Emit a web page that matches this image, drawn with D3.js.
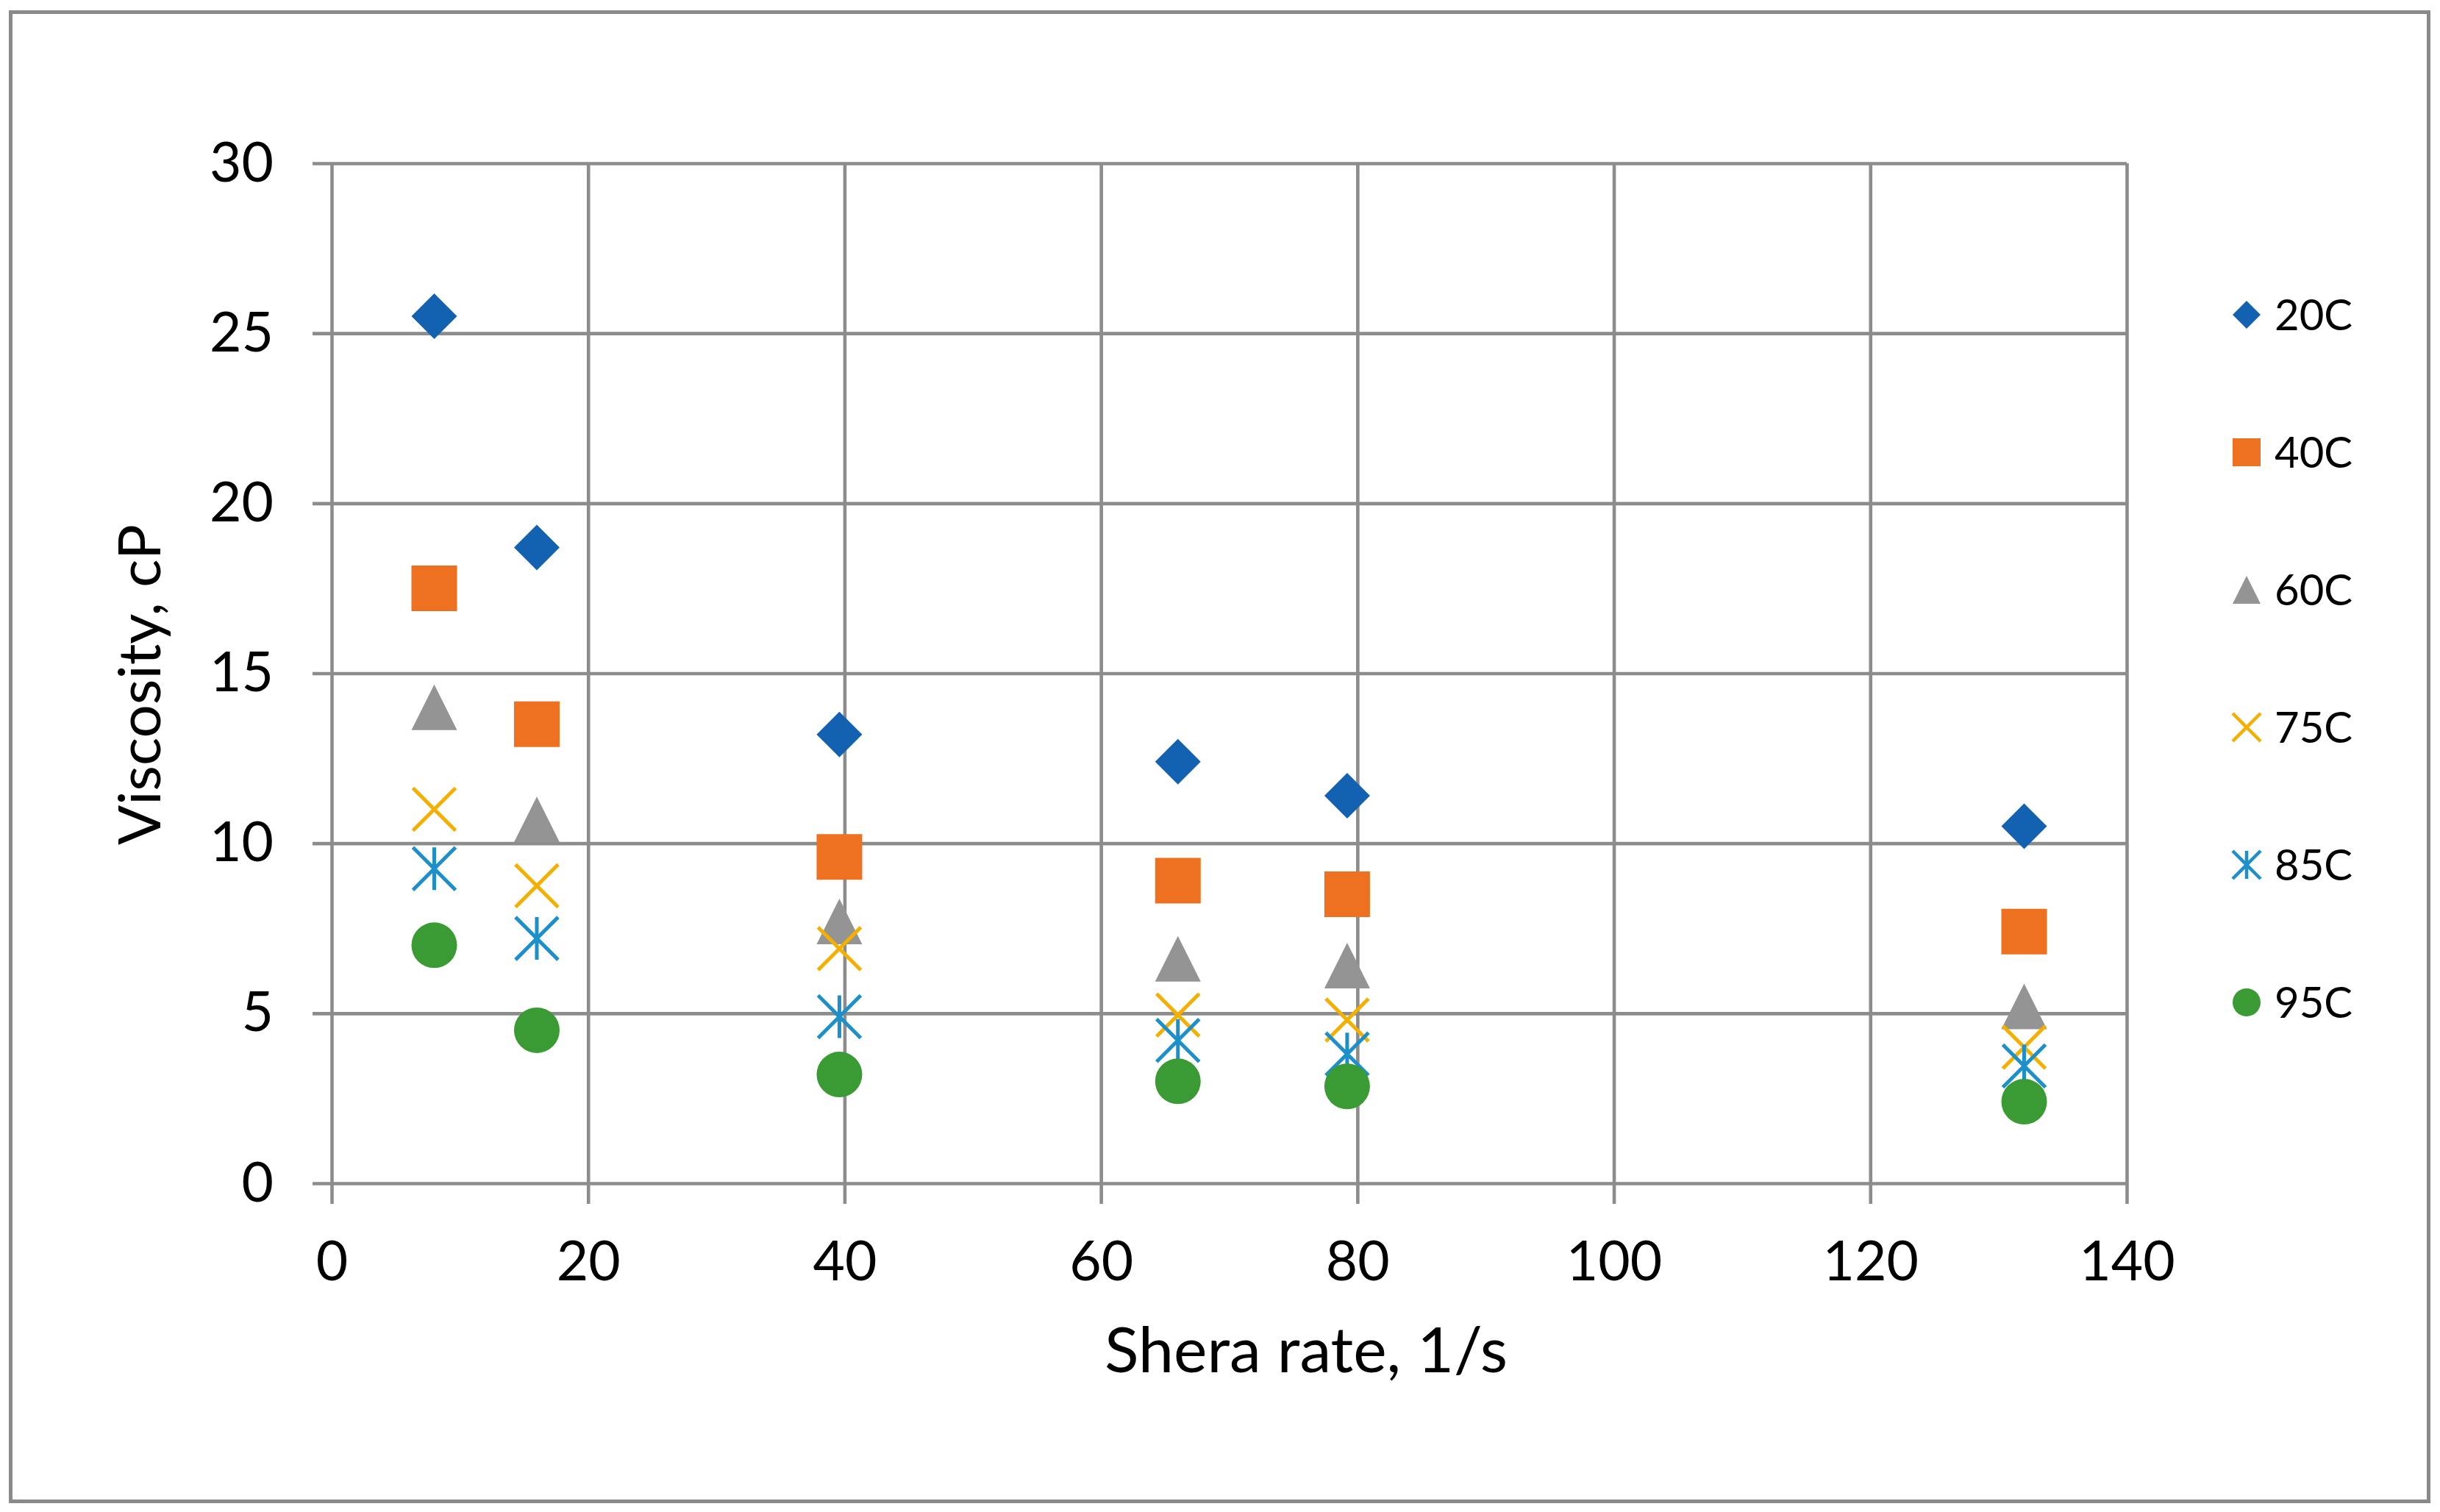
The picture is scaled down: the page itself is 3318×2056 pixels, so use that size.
<!DOCTYPE html>
<html>
<head>
	<title>viscosity</title>
	<style>
		body{
			margin:0;
			background:#fff;
		}
		text{
			font-family: Lato, "Open Sans", sans-serif;
			fill:#000;
		}
		.grid line{
			stroke:#8c8c8c;
			stroke-width:4.6px;
		}
		.grid path{
			display:none;
		}
	</style>
	<script src="https://d3js.org/d3.v7.min.js"></script>
</head>
<body>
<svg width="3318" height="2056"></svg>
<script>

	var shearRates=[8,16,39.6,66,79.2,132];

	var seriesNames=["20C","40C","60C","75C","85C","95C"];

	var visc20=[25.5,18.7,13.2,12.4,11.4,10.5],
	    visc40=[17.5,13.5,9.6,8.9,8.5,7.4],
	    visc60=[14.0,10.7,7.7,6.6,6.4,5.2],
	    visc75=[11.0,8.75,6.9,4.95,4.8,4.0],
	    visc85=[9.25,7.2,4.9,4.2,3.8,3.45],
	    visc95=[7.0,4.5,3.2,3.0,2.85,2.4];

	var xTicks=[0,20,40,60,80,100,120,140],
	    yTicks=[0,5,10,15,20,25,30];

	var allValues=[visc20,visc40,visc60,visc75,visc85,visc95];

	// marker shapes, size is area of bounding square
	var diamond={draw:function(c,s){var r=Math.sqrt(s)/2;c.moveTo(0,-r);c.lineTo(r,0);c.lineTo(0,r);c.lineTo(-r,0);c.closePath();}},
	    square={draw:function(c,s){var r=Math.sqrt(s)/2;c.rect(-r,-r,2*r,2*r);}},
	    triangle={draw:function(c,s){var r=Math.sqrt(s)/2;c.moveTo(0,-r);c.lineTo(r,r);c.lineTo(-r,r);c.closePath();}},
	    cross={draw:function(c,s){var r=Math.sqrt(s)/2;c.moveTo(-r,-r);c.lineTo(r,r);c.moveTo(r,-r);c.lineTo(-r,r);}},
	    star={draw:function(c,s){var r=Math.sqrt(s)/2;c.moveTo(-r,-r);c.lineTo(r,r);c.moveTo(r,-r);c.lineTo(-r,r);c.moveTo(0,-r);c.lineTo(0,r);}},
	    circle={draw:function(c,s){var r=Math.sqrt(s)/2;c.moveTo(r,0);c.arc(0,0,r,0,2*Math.PI);}};

	var styles=[
		{shape:diamond,color:"#1262b1",filled:true,size:62},
		{shape:square,color:"#ed7121",filled:true,size:62},
		{shape:triangle,color:"#949494",filled:true,size:62},
		{shape:cross,color:"#f4b000",filled:false,size:58},
		{shape:star,color:"#1d8fc9",filled:false,size:58},
		{shape:circle,color:"#3a9a33",filled:true,size:62}
	];

	var svg=d3.select("svg"),
	    margin={top:222,right:426,bottom:447,left:451},
	    width=3318-margin.left-margin.right,
	    height=2056-margin.top-margin.bottom;

	svg.append("rect")
	   .attr("x",14.5)
	   .attr("y",16.5)
	   .attr("width",3288)
	   .attr("height",2025)
	   .attr("fill","#fff")
	   .attr("stroke","#8a8a8a")
	   .attr("stroke-width",5);

	var x=d3.scaleLinear().domain([0,140]).range([margin.left,margin.left+width]),
	    y=d3.scaleLinear().domain([0,30]).range([margin.top+height,margin.top]);

	// vertical grid + ticks below + labels
	svg.append("g")
	   .attr("class","grid")
	   .attr("transform","translate(0,"+margin.top+")")
	   .call(d3.axisBottom(x).tickValues(xTicks).tickSize(height+28).tickPadding(51))
	   .selectAll("text")
	   .attr("font-size",75);

	// horizontal grid + ticks left + labels
	svg.append("g")
	   .attr("class","grid")
	   .attr("transform","translate("+(margin.left+width)+",0)")
	   .call(d3.axisLeft(y).tickValues(yTicks).tickSize(width+26).tickPadding(53))
	   .selectAll("text")
	   .attr("font-size",75);

	svg.selectAll(".grid text").attr("fill","#000").attr("font-family","Lato, 'Open Sans', sans-serif");

	svg.append("text")
	   .attr("x",1776)
	   .attr("y",1866)
	   .attr("text-anchor","middle")
	   .attr("font-size",86)
	   .text("Shera rate, 1/s");

	svg.append("text")
	   .attr("transform","translate(218,931) rotate(-90)")
	   .attr("text-anchor","middle")
	   .attr("font-size",80)
	   .text("Viscosity, cP");

	var sym=d3.symbol();

	allValues.forEach(function(vals,i){
		var st=styles[i];
		svg.append("g")
		   .selectAll("path")
		   .data(vals)
		   .enter().append("path")
		   .attr("transform",function(d,j){return "translate("+x(shearRates[j])+","+y(d)+")";})
		   .attr("d",sym.type(st.shape).size(st.size*st.size)())
		   .attr("fill",st.filled?st.color:"none")
		   .attr("stroke",st.filled?"none":st.color)
		   .attr("stroke-width",5);
	});

	// legend
	var legend=svg.append("g")
	              .selectAll("g")
	              .data(seriesNames)
	              .enter().append("g")
	              .attr("transform",function(d,i){return "translate(3055,"+(428+i*187)+")";});

	legend.append("path")
	      .attr("d",function(d,i){return d3.symbol().type(styles[i].shape).size(38*38)();})
	      .attr("fill",function(d,i){return styles[i].filled?styles[i].color:"none";})
	      .attr("stroke",function(d,i){return styles[i].filled?"none":styles[i].color;})
	      .attr("stroke-width",4.5);

	legend.append("text")
	      .attr("x",38)
	      .attr("dy","0.36em")
	      .attr("font-size",58)
	      .text(function(d){return d;});

</script>
</body>
</html>
